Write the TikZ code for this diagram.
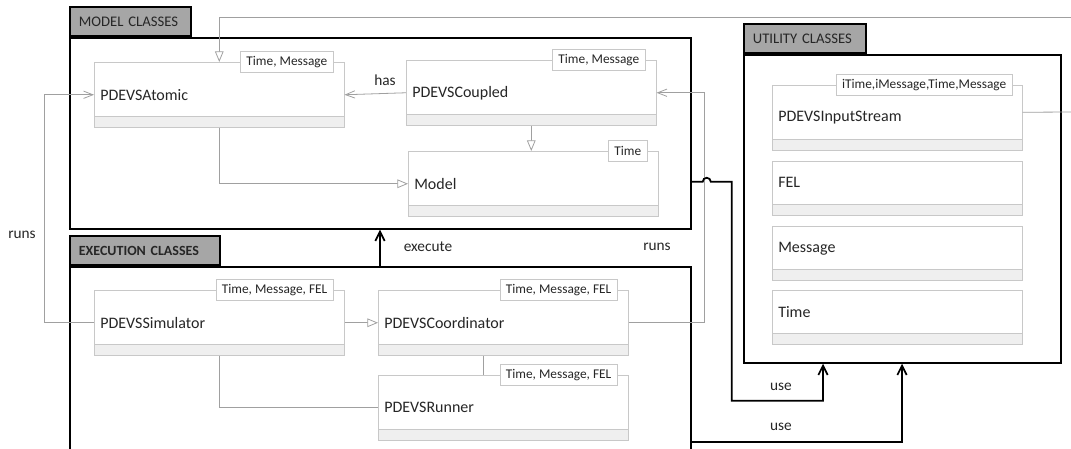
\documentclass[tikz,border=0pt]{standalone}
\usepackage{fontspec}
\setmainfont{Carlito}
\usepackage{xcolor}
\usetikzlibrary{arrows.meta,positioning}

\definecolor{clsline}{HTML}{C8C8C8}
\definecolor{clsstrip}{HTML}{EFEFEF}
\definecolor{depline}{HTML}{A0A0A0}
\definecolor{tabfill}{HTML}{A6A6A6}
\definecolor{txt}{HTML}{262626}

\tikzset{
	cls/.style={draw=clsline, fill=white, anchor=north west, minimum width=187.5pt, minimum height=48.75pt,
		text width=178.5pt, inner xsep=4.5pt, inner ysep=0pt, align=left, text=txt, font=\fontsize{12}{14}\selectfont},
	smallcls/.style={cls, minimum height=40.5pt, text depth=8.25pt},
	strip/.style={draw=clsline, fill=clsstrip},
	tmpl/.style={draw=clsline, fill=white, anchor=east, minimum height=15.75pt, inner xsep=4.5pt, inner ysep=0pt,
		text=txt, font=\fontsize{10}{12}\selectfont},
	pkgbody/.style={draw=black, line width=1.3pt, anchor=north west},
	pkgtab/.style={draw=black, line width=1.3pt, fill=tabfill, minimum height=21.75pt, inner xsep=6.75pt, inner ysep=0pt,
		align=left, text=txt, font=\fontsize{11}{13}\selectfont},
	dep/.style={draw=depline, line width=0.6pt},
	assoc/.style={dep, -{Straight Barb[length=7pt, width=5.5pt]}},
	gen/.style={dep, -{Triangle[open, fill=white, length=8pt, width=6.5pt]}},
	use/.style={draw=black, line width=1.3pt, -{Straight Barb[length=7pt, width=7pt]}},
	lbl/.style={text=txt, inner sep=0pt, font=\fontsize{11.5}{13}\selectfont}
}

\begin{document}
\begin{tikzpicture}[x=0.75pt,y=-0.75pt]
	\clip (0,0) rectangle (1071,449);

	%packages
	\node[pkgbody, minimum width=465.75pt, minimum height=143.25pt] (modelpkg) at (69,37) {};
	\node[pkgtab, text width=77.25pt, above right=0pt of modelpkg.north west] (modeltab) {MODEL CLASSES};
	\node[pkgbody, minimum width=465.75pt, minimum height=153pt] (execpkg) at (69,266) {};
	\node[pkgtab, text width=99pt, font=\fontsize{10.5}{13}\selectfont\bfseries, above right=0pt of execpkg.north west] (exectab) {EXECUTION CLASSES};
	\node[pkgbody, minimum width=237.75pt, minimum height=231pt] (utilpkg) at (743,54) {};
	\node[pkgtab, text width=78pt, above right=0pt of utilpkg.north west] (utiltab) {UTILITY CLASSES};

	%model classes
	\node[cls] (atomic) at (94,62) {PDEVSAtomic};
	\draw[strip] ([yshift=8.25pt]atomic.south west) rectangle (atomic.south east);
	\node[tmpl] (atomicT) at ([xshift=-8.25pt]atomic.north east) {Time, Message};

	\node[cls] (coupled) at (406,60) {PDEVSCoupled};
	\draw[strip] ([yshift=8.25pt]coupled.south west) rectangle (coupled.south east);
	\node[tmpl] (coupledT) at ([xshift=-8.25pt]coupled.north east) {Time, Message};

	\node[cls] (model) at (408,151) {Model};
	\draw[strip] ([yshift=8.25pt]model.south west) rectangle (model.south east);
	\node[tmpl] (modelT) at ([xshift=-8.25pt]model.north east) {Time};

	%execution classes
	\node[cls] (sim) at (94,290) {PDEVSSimulator};
	\draw[strip] ([yshift=8.25pt]sim.south west) rectangle (sim.south east);
	\node[tmpl] (simT) at ([xshift=-8.25pt]sim.north east) {Time, Message, FEL};

	\node[cls] (coord) at (378,290) {PDEVSCoordinator};
	\draw[strip] ([yshift=8.25pt]coord.south west) rectangle (coord.south east);
	\node[tmpl] (coordT) at ([xshift=-8.25pt]coord.north east) {Time, Message, FEL};

	\node[cls] (runner) at (378,375) {PDEVSRunner};
	\draw[strip] ([yshift=8.25pt]runner.south west) rectangle (runner.south east);
	\node[tmpl] (runnerT) at ([xshift=-8.25pt]runner.north east) {Time, Message, FEL};

	%utility classes
	\node[cls] (instream) at (772,85) {PDEVSInputStream};
	\draw[strip] ([yshift=8.25pt]instream.south west) rectangle (instream.south east);
	\node[tmpl] (instreamT) at ([xshift=-7.5pt]instream.north east) {iTime,iMessage,Time,Message};

	\node[smallcls] (fel) at (772,161) {FEL};
	\draw[strip] ([yshift=8.25pt]fel.south west) rectangle (fel.south east);

	\node[smallcls] (msg) at (772,226) {Message};
	\draw[strip] ([yshift=8.25pt]msg.south west) rectangle (msg.south east);

	\node[smallcls] (time) at (772,290) {Time};
	\draw[strip] ([yshift=8.25pt]time.south west) rectangle (time.south east);

	%class relations
	\coordinate (inR) at (1071,112);
	\coordinate (topR) at (1071,17);
	\draw[dep] ([yshift=4.125pt]instream.east) -- (inR);
	\draw[gen] (topR) -| (atomic.north);
	\draw[gen] (atomic.south) |- (model.west);
	\draw[gen] (coupled.south) -- (coupled.south |- model.north);
	\draw[assoc] (coupled.west) -- (atomic.east);
	\draw[assoc] (sim.west) -- ++(-50,0) |- (atomic.west);
	\draw[assoc] (coord.east) -- ++(76,0) |- (coupled.east);
	\draw[gen] (sim.east) -- (coord.west);
	\draw[dep] (sim.south) |- (runner.west);
	\draw[dep] ([xshift=-15pt]coord.south) -- ([xshift=-15pt]runner.north);

	%package relations
	\draw[use] ([xshift=233.25pt]execpkg.north west) coordinate (ex) -- (ex |- modelpkg.south);
	\draw[use] ([yshift=36pt]modelpkg.south east) -- ++(11,0) arc[start angle=180, end angle=0, radius=3pt]
		-- ++(21,0) -- ++(0,219) -| ([xshift=60pt]utilpkg.south west);
	\draw[use] ([yshift=-132pt]execpkg.north east) -| ([xshift=119.25pt]utilpkg.south west);

	%labels
	\node[lbl] (hasL) at (385,80) {has};
	\node[lbl] (runsL) at (22,235) {runs};
	\node[lbl] (execL) at (428,247) {execute};
	\node[lbl] (runsR) at (657,247) {runs};
	\node[lbl] (useA) at (781,387) {use};
	\node[lbl] (useB) at (781,427) {use};
\end{tikzpicture}
\end{document}
